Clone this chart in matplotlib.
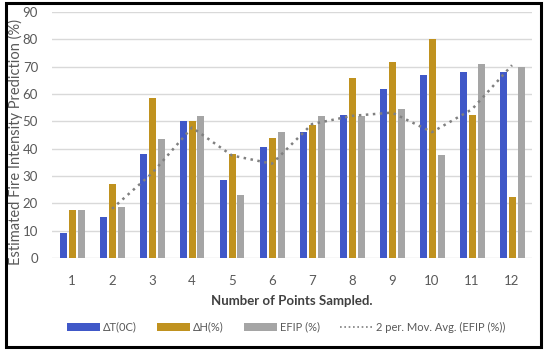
import matplotlib
matplotlib.use("Agg")
import matplotlib.pyplot as plt
from matplotlib.patches import Patch, Rectangle
from matplotlib.lines import Line2D
import numpy as np
import pandas as pd

plt.rcParams['font.family'] = ['Lato', 'DejaVu Sans']

categories = ["1", "2", "3", "4", "5", "6", "7", "8", "9", "10", "11", "12"]
delta_t = [9, 15, 38, 50, 28.5, 40.5, 46, 52.3, 61.8, 66.8, 68.2, 68.2]
delta_h = [17.5, 27, 58.5, 50, 38, 44, 48.5, 65.7, 71.6, 80, 52.3, 22.5]
efip = [17.5, 18.5, 43.5, 52, 23, 46, 52, 52, 54.4, 37.7, 71.1, 70]
series_names = ["ΔT(0C)", "ΔH(%)", "EFIP (%)"]
ma_name = "2 per. Mov. Avg. (EFIP (%))"
yticks = [0, 10, 20, 30, 40, 50, 60, 70, 80, 90]

colors = ["#4058C8", "#C0921F", "#A5A5A5"]
txt = "#595959"

fig = plt.figure(figsize=(5.5, 3.53), dpi=100)
ax = fig.add_axes([52/550, 1-258/353, 480/550, 246/353])

x = np.arange(1, len(categories) + 1)
w = 0.175
step = 0.225
for i, (vals, c) in enumerate(zip([delta_t, delta_h, efip], colors)):
    ax.bar(x + (i - 1) * step, vals, width=w, color=c, zorder=3)

ma = pd.Series(efip).rolling(2).mean()
ax.plot(x, ma, color="#808080", linestyle=(0, (1, 1.8)), linewidth=1.8, zorder=4)

ax.set_xlim(0.5, 12.5)
ax.set_ylim(0, 90)
ax.set_yticks(yticks)
ax.set_xticks(x)
ax.set_xticklabels(categories)
ax.grid(axis='y', color="#D9D9D9", linewidth=1, zorder=0)
for s in ax.spines.values():
    s.set_visible(False)
ax.tick_params(axis='both', length=0, colors=txt, labelsize=9.5)
ax.tick_params(axis='x', pad=12)
ax.tick_params(axis='y', pad=10)
ax.set_xlabel("Number of Points Sampled.", fontsize=9.5, fontweight='bold', color="#404040", labelpad=6)
ax.set_ylabel("Estimated Fire Intensity Prediction (%)", fontsize=10.5, color=txt)
ax.yaxis.set_label_coords(-0.06, 0.47)

handles = [Patch(facecolor=c) for c in colors] + [Line2D([0], [0], color="#7F7F7F", linestyle=(0, (1, 1.6)), linewidth=1.2)]
leg = fig.legend(handles, series_names + [ma_name], loc='center', bbox_to_anchor=(0.52, 1-327/353),
                 ncol=4, frameon=False, fontsize=8, handlelength=3, handleheight=0.7,
                 handletextpad=0.25, columnspacing=1.8)
for t in leg.get_texts():
    t.set_color(txt)

fig.patches.append(Rectangle((6/550, 1-347/353), 535/550, 344.5/353, transform=fig.transFigure,
                             fill=False, edgecolor="black", linewidth=2.2))

fig.savefig("out.png", dpi=100)
